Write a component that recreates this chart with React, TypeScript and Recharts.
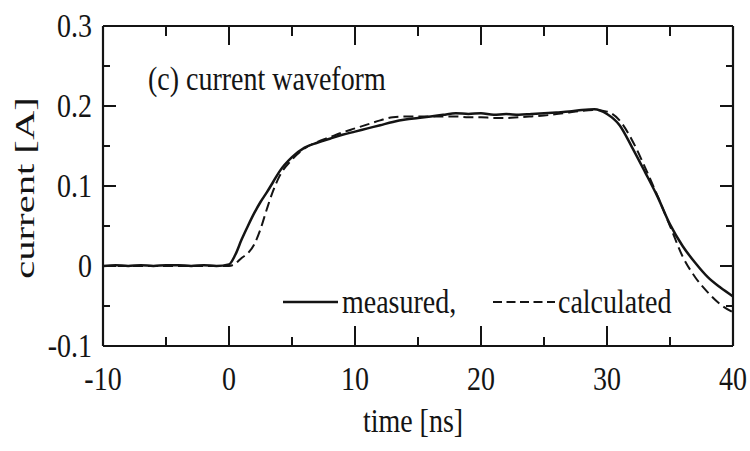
import React from 'react';
import { LineChart, Line, XAxis, YAxis, Label } from 'recharts';

// time axis [ns], denser around the turn-on knee
const timeNs = [
  -10, -9, -8, -7, -6, -5, -4, -3, -2, -1, 0,
  0.5, 1, 1.5, 2, 2.5, 3, 3.5, 4,
  5, 6, 7, 8, 9, 10, 11, 12, 13, 14, 15, 16, 17, 18, 19, 20, 21, 22,
  23, 24, 25, 26, 27, 28, 29, 30, 31, 32, 33, 34, 35, 36, 37, 38, 39, 40
];

const measured = [
  0, 0.001, 0, 0.001, 0, 0.001, 0.001, 0, 0.001, 0, 0.002,
  0.014, 0.033, 0.05, 0.066, 0.08, 0.092, 0.105, 0.118,
  0.136, 0.148, 0.154, 0.159, 0.164, 0.168, 0.172, 0.176, 0.18, 0.183, 0.185, 0.187, 0.189, 0.191, 0.19, 0.191, 0.189, 0.19,
  0.189, 0.19, 0.191, 0.192, 0.193, 0.195, 0.196, 0.19, 0.176, 0.148, 0.118, 0.087, 0.052, 0.025, 0.004, -0.014, -0.027, -0.038
];

const calculated = [
  0, 0, 0, 0, 0, 0, 0, 0, 0, 0, 0,
  0.003, 0.01, 0.016, 0.027, 0.046, 0.071, 0.094, 0.112,
  0.133, 0.147, 0.155, 0.161, 0.167, 0.172, 0.177, 0.182, 0.186, 0.187, 0.187, 0.187, 0.187, 0.187, 0.186, 0.186, 0.185, 0.185,
  0.186, 0.187, 0.188, 0.19, 0.192, 0.194, 0.195, 0.193, 0.182, 0.157, 0.124, 0.088, 0.05, 0.012, -0.014, -0.033, -0.048, -0.058
];

const xTicks = [-10, -5, 0, 5, 10, 15, 20, 25, 30, 35, 40];
const yTicks = [-0.1, -0.05, 0, 0.05, 0.1, 0.15, 0.2, 0.25, 0.3];

const rows = timeNs.map((t, i) => ({ t, measured: measured[i], calculated: calculated[i] }));

const INK = '#141414';
const FONT = '"Liberation Serif", "Times New Roman", serif';

const isMajorX = (v: number) => Math.abs(v / 10 - Math.round(v / 10)) < 1e-6;
const isMajorY = (v: number) => Math.abs(v * 10 - Math.round(v * 10)) < 1e-6;
const fmtY = (v: number) => (Math.abs(v) < 1e-9 ? '0' : String(Math.round(v * 10) / 10));

// scanned figure looks stretched vertically, so text gets the same squash
const SText = ({ x, y, anchor = 'start', children, size = 28 }: any) => (
  <text
    transform={`translate(${x},${y}) scale(1,1.2)`}
    textAnchor={anchor}
    fontFamily={FONT}
    fontSize={size}
    fill={INK}
  >
    {children}
  </text>
);

const BottomTick = ({ x, y, payload }: any) => {
  const major = isMajorX(payload.value);
  return (
    <g>
      <line x1={x} y1={y} x2={x} y2={y - (major ? 20 : 9)} stroke={INK} strokeWidth={2} />
      {major && (
        <SText x={x} y={y + 44} anchor="middle">
          {payload.value}
        </SText>
      )}
    </g>
  );
};

const TopTick = ({ x, y, payload }: any) => {
  const major = isMajorX(payload.value);
  return <line x1={x} y1={y} x2={x} y2={y + (major ? 19 : 10)} stroke={INK} strokeWidth={2} />;
};

const LeftTick = ({ x, y, payload }: any) => {
  const major = isMajorY(payload.value);
  return (
    <g>
      <line x1={x} y1={y} x2={x + (major ? 13 : 7)} y2={y} stroke={INK} strokeWidth={2} />
      {major && (
        <SText x={x - 11} y={y + 11} anchor="end">
          {fmtY(payload.value)}
        </SText>
      )}
    </g>
  );
};

const RightTick = ({ x, y, payload }: any) => {
  const major = isMajorY(payload.value);
  return <line x1={x} y1={y} x2={x - (major ? 13 : 7)} y2={y} stroke={INK} strokeWidth={2} />;
};

const TitleContent = () => <SText x={148} y={90}>(c) current waveform</SText>;

const XLabelContent = () => <SText x={413} y={432} anchor="middle">time [ns]</SText>;

const YLabelContent = () => (
  <text
    transform="translate(34,188) scale(1,1.45) rotate(-90)"
    textAnchor="middle"
    fontFamily={FONT}
    fontSize={28}
    fill={INK}
  >
    current [A]
  </text>
);

const LegendContent = () => (
  <g>
    <line x1={283} y1={302} x2={338} y2={302} stroke={INK} strokeWidth={2.5} />
    <SText x={342} y={313}>measured,</SText>
    <line x1={493} y1={302} x2={555} y2={302} stroke={INK} strokeWidth={2} strokeDasharray="9 4.5" />
    <SText x={558} y={313}>calculated</SText>
  </g>
);

const axisLine = { stroke: INK, strokeWidth: 2.2 };

const App: React.FC = () => (
  <div style={{ position: 'absolute', left: 0, top: 0, background: '#fff' }}>
    <LineChart width={750} height={451} data={rows} margin={{ top: 0, right: 0, bottom: 0, left: 0 }}>
      <XAxis
        xAxisId="b"
        dataKey="t"
        type="number"
        domain={[-10, 40]}
        ticks={xTicks}
        interval={0}
        height={105}
        tickSize={0}
        tickMargin={0}
        tickLine={false}
        axisLine={axisLine}
        tick={(p: any) => <BottomTick {...p} />}
        allowDataOverflow
      >
        <Label content={XLabelContent} />
      </XAxis>
      <XAxis
        xAxisId="t"
        orientation="top"
        dataKey="t"
        type="number"
        domain={[-10, 40]}
        ticks={xTicks}
        interval={0}
        height={26}
        tickSize={0}
        tickMargin={0}
        tickLine={false}
        axisLine={axisLine}
        tick={(p: any) => <TopTick {...p} />}
        allowDataOverflow
      >
        <Label content={TitleContent} />
      </XAxis>
      <YAxis
        yAxisId="l"
        type="number"
        domain={[-0.1, 0.3]}
        ticks={yTicks}
        interval={0}
        width={103}
        tickSize={0}
        tickMargin={0}
        tickLine={false}
        axisLine={axisLine}
        tick={(p: any) => <LeftTick {...p} />}
        allowDataOverflow
      >
        <Label content={YLabelContent} />
      </YAxis>
      <YAxis
        yAxisId="r"
        orientation="right"
        type="number"
        domain={[-0.1, 0.3]}
        ticks={yTicks}
        interval={0}
        width={17}
        tickSize={0}
        tickMargin={0}
        tickLine={false}
        axisLine={axisLine}
        tick={(p: any) => <RightTick {...p} />}
        allowDataOverflow
      >
        <Label content={LegendContent} />
      </YAxis>
      <Line
        xAxisId="b"
        yAxisId="l"
        type="monotone"
        dataKey="calculated"
        stroke={INK}
        strokeWidth={2}
        strokeDasharray="10 5"
        dot={false}
        isAnimationActive={false}
      />
      <Line
        xAxisId="b"
        yAxisId="l"
        type="monotone"
        dataKey="measured"
        stroke={INK}
        strokeWidth={2.5}
        dot={false}
        isAnimationActive={false}
      />
    </LineChart>
  </div>
);

export default App;
